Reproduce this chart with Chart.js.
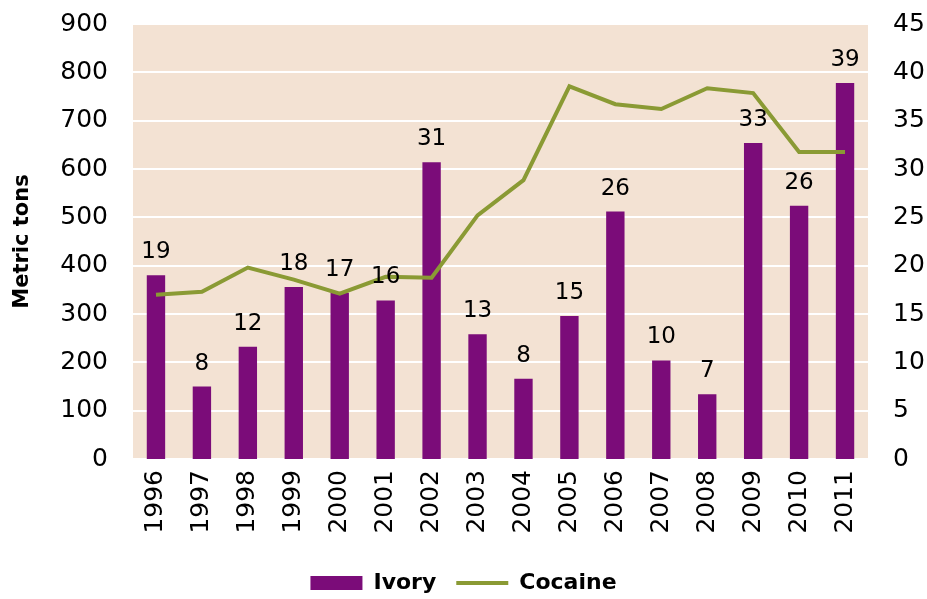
<!DOCTYPE html>
<html>
<head>
<meta charset="utf-8">
<script src="https://cdn.jsdelivr.net/npm/chart.js@4"></script>
<style>
  html, body { margin: 0; padding: 0; background: #ffffff; }
  #wrap { width: 927px; height: 599px; }
</style>
</head>
<body>
<div id="wrap"><canvas id="chart" width="927" height="599"></canvas></div>
<script>
var anos = ['1996', '1997', '1998', '1999', '2000', '2001', '2002', '2003', '2004', '2005', '2006', '2007', '2008', '2009', '2010', '2011'];
// ivory seizures (right axis, tons)
var marfim = [19.0, 7.5, 11.6, 17.8, 17.2, 16.4, 30.7, 12.9, 8.3, 14.8, 25.6, 10.2, 6.7, 32.7, 26.2, 38.9];
// cocaine seizures (left axis, metric tons)
var cocaina = [340, 346, 396, 371, 342, 377, 375, 504, 577, 771, 734, 724, 767, 757, 635, 635];

var fonte = "'DejaVu Sans', sans-serif";

// paints the beige plot area
const fundoPlot = {
    id: 'fundoPlot',
    beforeDraw: function (chart) {
        const a = chart.chartArea;
        const ctx = chart.ctx;
        ctx.save();
        ctx.fillStyle = '#F3E2D3';
        ctx.fillRect(a.left, a.top, a.right - a.left, a.bottom - a.top);
        ctx.restore();
    }
};

// numbers above the bars
const rotulosBarras = {
    id: 'rotulosBarras',
    afterDatasetsDraw: function (chart) {
        const meta = chart.getDatasetMeta(0);
        const ctx = chart.ctx;
        ctx.save();
        ctx.font = "23px " + fonte;
        ctx.fillStyle = '#000000';
        ctx.textAlign = 'center';
        ctx.textBaseline = 'alphabetic';
        meta.data.forEach(function (barra, i) {
            ctx.fillText(Math.round(marfim[i]), barra.x, barra.y - 17);
        });
        ctx.restore();
    }
};

// place the legend row near the bottom edge
const moverLegenda = {
    id: 'moverLegenda',
    afterLayout: function (chart) {
        const lg = chart.legend;
        const d = 552 - lg.top;
        lg.top += d;
        lg.bottom += d;
    }
};

function semSobra(s) {
    s.paddingTop = 0;
    s.paddingBottom = 0;
    s.paddingLeft = 0;
    s.paddingRight = 0;
}

new Chart(document.getElementById('chart'), {
    type: 'bar',
    data: {
        labels: anos,
        datasets: [{
            label: 'Ivory',
            data: marfim,
            yAxisID: 'y1',
            backgroundColor: '#7B0C79',
            barPercentage: 0.4,
            categoryPercentage: 1,
            order: 1,
            pointStyle: 'rect'
        }, {
            type: 'line',
            label: 'Cocaine',
            data: cocaina,
            yAxisID: 'y',
            borderColor: '#8A9A34',
            backgroundColor: '#8A9A34',
            borderWidth: 4,
            pointRadius: 0,
            tension: 0,
            order: 0,
            pointStyle: 'line'
        }]
    },
    options: {
        responsive: false,
        animation: false,
        layout: { padding: { top: 24, left: 0, right: 0, bottom: 0 } },
        plugins: {
            tooltip: { enabled: false },
            legend: {
                position: 'bottom',
                labels: {
                    usePointStyle: true,
                    pointStyleWidth: 52,
                    boxHeight: 14,
                    color: '#000000',
                    font: { family: fonte, size: 22, weight: 'bold' },
                    padding: 20,
                    sort: function (a, b) { return a.datasetIndex - b.datasetIndex; }
                }
            }
        },
        scales: {
            x: {
                grid: { display: false, drawTicks: false },
                border: { display: false },
                ticks: {
                    color: '#000000',
                    font: { family: fonte, size: 25 },
                    minRotation: 90,
                    maxRotation: 90,
                    padding: 11
                },
                afterFit: function (s) { s.height = 88; semSobra(s); }
            },
            y: {
                position: 'left',
                min: 0,
                max: 900,
                ticks: {
                    stepSize: 100,
                    color: '#000000',
                    font: { family: fonte, size: 25 },
                    padding: 25
                },
                grid: { color: '#FFFFFF', lineWidth: 2, drawTicks: false },
                border: { display: false },
                title: {
                    display: true,
                    text: 'Metric tons',
                    color: '#000000',
                    font: { family: fonte, size: 21, weight: 'bold' },
                    padding: { top: 10, bottom: 0 }
                },
                afterFit: function (s) { s.width = 133; semSobra(s); }
            },
            y1: {
                position: 'right',
                min: 0,
                max: 45,
                ticks: {
                    stepSize: 5,
                    color: '#000000',
                    font: { family: fonte, size: 25 },
                    padding: 25
                },
                grid: { display: false, drawTicks: false },
                border: { display: false },
                afterFit: function (s) { s.width = 59; semSobra(s); }
            }
        }
    },
    plugins: [fundoPlot, rotulosBarras, moverLegenda]
});
</script>
</body>
</html>
